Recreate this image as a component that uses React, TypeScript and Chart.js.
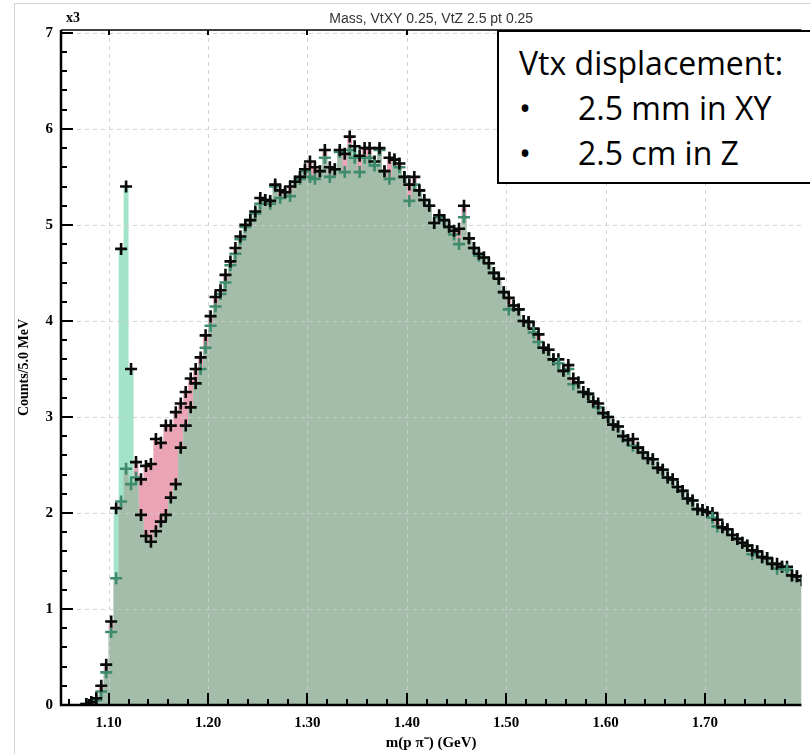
import React, { useEffect, useRef } from "react";
import { Chart, registerables } from "chart.js";

Chart.register(...registerables);

// ---- data ----
const BIN_START = 1.0525; // centre of first 5 MeV bin (GeV)
const BIN_WIDTH = 0.005;

// histogram A (pink fill)
const seriesA = [
  0, 0, 0, 0, 0, 0.01, 0.03, 0.07, 0.2, 0.42,
  0.87, 1.32, 2.12, 2.46, 2.3, 2.53, 2.35, 2.49, 2.51, 2.77,
  2.73, 2.91, 2.91, 3.05, 3.14, 3.26, 3.4, 3.5, 3.62, 3.85,
  4.05, 4.25, 4.32, 4.48, 4.62, 4.76, 4.88, 5.0, 5.05, 5.14,
  5.28, 5.26, 5.25, 5.42, 5.36, 5.34, 5.4, 5.45, 5.5, 5.58,
  5.66, 5.6, 5.56, 5.78, 5.6, 5.58, 5.78, 5.74, 5.92, 5.7,
  5.72, 5.8, 5.8, 5.62, 5.8, 5.56, 5.7, 5.68, 5.64, 5.5,
  5.42, 5.5, 5.36, 5.26, 5.2, 5.02, 5.1, 5.05, 4.98, 4.94,
  4.96, 5.2, 4.86, 4.76, 4.7, 4.66, 4.6, 4.5, 4.44, 4.3,
  4.24, 4.16, 4.12, 4.0, 3.99, 3.88, 3.86, 3.72, 3.7, 3.6,
  3.56, 3.48, 3.54, 3.4, 3.36, 3.26, 3.24, 3.16, 3.14, 3.04,
  3.0, 2.92, 2.9, 2.8, 2.76, 2.77, 2.68, 2.63, 2.57, 2.56,
  2.47, 2.45, 2.37, 2.35, 2.27, 2.23, 2.15, 2.13, 2.04, 2.03,
  2.01, 1.95, 1.93, 1.85, 1.83, 1.77, 1.73, 1.69, 1.66, 1.61,
  1.6, 1.54, 1.53, 1.47, 1.47, 1.44, 1.41, 1.35, 1.34, 1.3,
];

// histogram B (green fill)
const seriesB = [
  0, 0, 0, 0, 0, 0.01, 0.02, 0.05, 0.14, 0.34,
  0.76, 2.05, 4.75, 5.4, 3.5, 2.37, 1.98, 1.76, 1.7, 1.81,
  1.91, 1.98, 2.16, 2.3, 2.68, 2.91, 3.1, 3.35, 3.5, 3.72,
  3.95, 4.15, 4.28, 4.4, 4.58, 4.7, 4.85, 4.98, 5.05, 5.12,
  5.22, 5.26, 5.22, 5.4, 5.28, 5.34, 5.3, 5.45, 5.48, 5.56,
  5.5, 5.48, 5.56, 5.7, 5.5, 5.58, 5.76, 5.55, 5.78, 5.82,
  5.55, 5.7, 5.7, 5.66, 5.78, 5.56, 5.48, 5.68, 5.6, 5.5,
  5.25, 5.42, 5.36, 5.26, 5.2, 5.02, 5.08, 5.05, 4.98, 4.9,
  4.8, 5.08, 4.86, 4.76, 4.68, 4.66, 4.6, 4.5, 4.44, 4.3,
  4.12, 4.16, 4.12, 4.0, 3.99, 3.92, 3.78, 3.72, 3.7, 3.6,
  3.6, 3.48, 3.5, 3.34, 3.36, 3.26, 3.24, 3.16, 3.1, 3.04,
  3.0, 2.92, 2.9, 2.8, 2.76, 2.7, 2.68, 2.63, 2.57, 2.56,
  2.47, 2.45, 2.37, 2.35, 2.27, 2.23, 2.15, 2.13, 2.04, 2.03,
  2.01, 2.0, 1.86, 1.85, 1.83, 1.77, 1.73, 1.69, 1.66, 1.57,
  1.6, 1.54, 1.53, 1.47, 1.42, 1.44, 1.44, 1.35, 1.34, 1.3,
];

const X_TICKS = [1.1, 1.2, 1.3, 1.4, 1.5, 1.6, 1.7];
const Y_TICKS = [0, 1, 2, 3, 4, 5, 6, 7];
const X_MIN = 1.052;
const X_MAX = 1.797;
const Y_MIN = 0;
const Y_MAX = 7.03;
const X_MINOR_STEP = 0.02;
const Y_MINOR_STEP = 0.2;
// region where both sets of markers are drawn black
const BOTH_BLACK_MIN = 1.13;
const BOTH_BLACK_MAX = 1.19;

const TITLE = "Mass, VtXY 0.25, VtZ 2.5 pt 0.25";
const X_LABEL = "m(p \u03c0\u207b) (GeV)";
const Y_LABEL = "Counts/5.0 MeV";
const SCALE_TAG = "x3";
const NOTE_TITLE = "Vtx displacement:";
const NOTE_ITEMS = ["2.5 mm in XY", "2.5 cm in Z"];

// ---- styles ----
const SAGE = "#a4bdaa";
const MINT = "#a3e3ca";
const PINK = "#eaa4b5";
const BLACK = "#0a0a0a";
const GREEN = "#3e8c6d";
const GRID = "rgba(205,205,205,0.85)";
const SERIF = '"Liberation Serif", "Times New Roman", serif';
const SANS = '"Liberation Sans", Arial, sans-serif';

const BINS = seriesA.map((_, i) => +(BIN_START + i * BIN_WIDTH).toFixed(4));
const overlap = seriesA.map((a, i) => Math.min(a, seriesB[i]));
const toFill = (arr: number[]) => arr.map((v, i) => ({ x: BINS[i], y: v }));
const toMarks = (arr: number[]) =>
  arr.map((v, i) => ({ x: BINS[i], y: v > 0.004 ? v : null }));

const markColor = (own: number[], other: number[], lowerWhenEqual: boolean) => (ctx: any) => {
  const i = ctx.dataIndex;
  const x = BINS[i];
  if (x > BOTH_BLACK_MIN && x < BOTH_BLACK_MAX) return BLACK;
  const lower = lowerWhenEqual ? own[i] <= other[i] : own[i] < other[i];
  return lower ? GREEN : BLACK;
};

const xMinorTicks: { v: number; major: boolean }[] = [];
for (let k = 0; k < 40; k++) {
  const v = +(1.06 + k * X_MINOR_STEP).toFixed(3);
  if (v > X_MAX) break;
  xMinorTicks.push({ v, major: X_TICKS.some((t) => Math.abs(t - v) < 1e-6) });
}
const yMinorTicks: { v: number; major: boolean }[] = [];
for (let k = 0; k <= 35; k++) {
  const v = +(Y_MIN + k * Y_MINOR_STEP).toFixed(3);
  yMinorTicks.push({ v, major: Y_TICKS.some((t) => Math.abs(t - v) < 1e-6) });
}

const framePlugin = {
  id: "frame",
  afterDatasetDraw(chart: any, args: any) {
    if (args.index !== 2) return;
    const { ctx, chartArea: ca, scales } = chart;
    const xs = scales.x;
    const ys = scales.y;
    ctx.save();
    ctx.strokeStyle = GRID;
    ctx.lineWidth = 1;
    ctx.setLineDash([4, 4]);
    X_TICKS.forEach((v) => {
      const px = Math.round(xs.getPixelForValue(v)) + 0.5;
      ctx.beginPath();
      ctx.moveTo(px, ca.top);
      ctx.lineTo(px, ca.bottom);
      ctx.stroke();
    });
    Y_TICKS.filter((v) => v > 0).forEach((v) => {
      const py = Math.round(ys.getPixelForValue(v)) + 0.5;
      ctx.beginPath();
      ctx.moveTo(ca.left, py);
      ctx.lineTo(ca.right, py);
      ctx.stroke();
    });
    ctx.restore();
  },
  afterDraw(chart: any) {
    const { ctx, chartArea: ca, scales } = chart;
    const xs = scales.x;
    const ys = scales.y;
    ctx.save();
    ctx.setLineDash([]);
    ctx.strokeStyle = "#000000";
    ctx.lineCap = "butt";
    // ticks
    ctx.lineWidth = 2;
    ctx.beginPath();
    xMinorTicks.forEach(({ v, major }) => {
      const px = Math.round(xs.getPixelForValue(v));
      ctx.moveTo(px, ca.bottom);
      ctx.lineTo(px, ca.bottom - (major ? 12 : 6));
      if (major) {
        ctx.moveTo(px, ca.top);
        ctx.lineTo(px, ca.top + 5);
      }
    });
    yMinorTicks.forEach(({ v, major }) => {
      const py = Math.round(ys.getPixelForValue(v));
      ctx.moveTo(ca.left, py);
      ctx.lineTo(ca.left + (major ? 12 : 6), py);
    });
    ctx.stroke();
    // axes
    ctx.lineWidth = 2.5;
    ctx.beginPath();
    ctx.moveTo(ca.left, ca.top);
    ctx.lineTo(ca.left, ca.bottom);
    ctx.lineTo(ca.right, ca.bottom);
    ctx.stroke();
    // top frame
    ctx.lineWidth = 1.5;
    ctx.beginPath();
    ctx.moveTo(ca.left, ca.top);
    ctx.lineTo(ca.right, ca.top);
    ctx.stroke();
    // title texts
    ctx.fillStyle = "#333";
    ctx.font = `14px ${SANS}`;
    ctx.textAlign = "center";
    ctx.textBaseline = "middle";
    ctx.fillText(TITLE, (ca.left + ca.right) / 2, 19);
    ctx.fillStyle = "#000";
    ctx.font = `bold 14px ${SERIF}`;
    ctx.textAlign = "left";
    ctx.fillText(SCALE_TAG, 66, 18);
    ctx.restore();
  },
};

export default function App() {
  const canvasRef = useRef<HTMLCanvasElement | null>(null);

  useEffect(() => {
    document.body.style.margin = "0";
    const canvas = canvasRef.current;
    if (!canvas) return;
    const marks = (arr: number[], other: number[], lowerWhenEqual: boolean, order: number, label: string) => ({
      label,
      data: toMarks(arr),
      showLine: false,
      pointStyle: "cross",
      pointRadius: 6,
      pointBorderWidth: 2.6,
      pointBorderColor: markColor(arr, other, lowerWhenEqual),
      order,
    });
    const fillSet = (arr: number[], color: string, order: number, label: string) => ({
      label,
      data: toFill(arr),
      stepped: "middle",
      fill: "origin",
      backgroundColor: color,
      borderWidth: 0,
      pointRadius: 0,
      order,
    });
    const chart = new Chart(canvas, {
      type: "line",
      data: {
        datasets: [
          marks(seriesA, seriesB, false, 0, "A marks"),
          marks(seriesB, seriesA, true, 1, "B marks"),
          fillSet(overlap, SAGE, 2, "overlap"),
          fillSet(seriesB, MINT, 3, "B"),
          fillSet(seriesA, PINK, 4, "A"),
        ] as any,
      },
      options: {
        animation: false,
        responsive: false,
        maintainAspectRatio: false,
        layout: { padding: { top: 30, left: 0, right: 0, bottom: 0 } },
        plugins: { legend: { display: false }, tooltip: { enabled: false }, title: { display: false } },
        scales: {
          x: {
            type: "linear",
            position: "bottom",
            min: X_MIN,
            max: X_MAX,
            grid: { display: false, drawTicks: false },
            border: { display: false },
            afterBuildTicks: (s: any) => {
              s.ticks = X_TICKS.map((v) => ({ value: v }));
            },
            afterFit: (s: any) => {
              s.height = 49;
            },
            ticks: {
              autoSkip: false,
              maxRotation: 0,
              padding: 9,
              color: "#000",
              font: { family: SERIF, size: 15, weight: "bold" },
              callback: (v: any) => Number(v).toFixed(2),
            },
            title: {
              display: true,
              text: X_LABEL,
              color: "#000",
              font: { family: SERIF, size: 15, weight: "bold" },
              padding: { top: 0, bottom: 2 },
            },
          },
          y: {
            type: "linear",
            min: Y_MIN,
            max: Y_MAX,
            grid: { display: false, drawTicks: false },
            border: { display: false },
            afterBuildTicks: (s: any) => {
              s.ticks = Y_TICKS.map((v) => ({ value: v }));
            },
            afterFit: (s: any) => {
              s.width = 61;
            },
            ticks: {
              padding: 8,
              color: "#000",
              font: { family: SERIF, size: 15, weight: "bold" },
              callback: (v: any) => String(v),
            },
            title: {
              display: true,
              text: Y_LABEL,
              color: "#000",
              font: { family: SERIF, size: 14, weight: "bold" },
              padding: { top: 16, bottom: 0 },
            },
          },
        },
      } as any,
      plugins: [framePlugin],
    });
    return () => chart.destroy();
  }, []);

  return (
    <div style={{ position: "relative", width: 810, height: 754, overflow: "hidden", background: "#fff" }}>
      <canvas ref={canvasRef} width={810} height={754} style={{ display: "block", width: 810, height: 754 }} />
      <div style={{ position: "absolute", left: 14, top: 3, width: 800, height: 760, borderLeft: "1px solid #d4d4d4", borderTop: "1px solid #d4d4d4", pointerEvents: "none" }} />
      <div
        style={{
          position: "absolute",
          left: 497,
          top: 30,
          width: 340,
          height: 154,
          boxSizing: "border-box",
          border: "2px solid #000",
          background: "#fff",
          fontFamily: '"Open Sans", sans-serif',
          fontSize: 32,
          lineHeight: "45px",
          color: "#000",
          paddingTop: 8,
        }}
      >
        <div style={{ paddingLeft: 20, whiteSpace: "nowrap" }}>{NOTE_TITLE}</div>
        {NOTE_ITEMS.map((t) => (
          <div key={t} style={{ position: "relative", paddingLeft: 79, whiteSpace: "nowrap" }}>
            <span style={{ position: "absolute", left: 20 }}>{"\u2022"}</span>
            {t}
          </div>
        ))}
      </div>
    </div>
  );
}
